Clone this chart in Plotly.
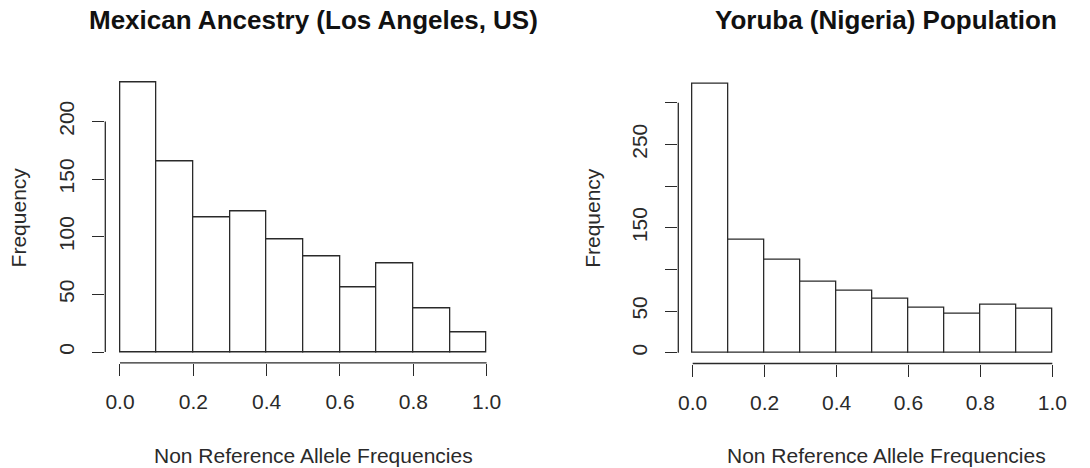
import plotly.graph_objects as go

bin_edges = [0.0, 0.1, 0.2, 0.3, 0.4, 0.5, 0.6, 0.7, 0.8, 0.9, 1.0]
mexican_counts = [234, 165, 117, 122, 98, 83, 56, 77, 38, 17]
yoruba_counts = [323, 136, 112, 85, 74, 65, 54, 47, 58, 53]

x_ticks = [0.0, 0.2, 0.4, 0.6, 0.8, 1.0]
x_ticktext = ["0.0", "0.2", "0.4", "0.6", "0.8", "1.0"]
mex_yticks = [0, 50, 100, 150, 200]
mex_ytext = ["0", "50", "100", "150", "200"]
yor_yticks = [0, 50, 100, 150, 200, 250, 300]
yor_ytext = ["0", "50", "", "150", "", "250", ""]

titles = ["Mexican Ancestry (Los Angeles, US)", "Yoruba (Nigeria) Population"]
xlabel = "Non Reference Allele Frequencies"
ylabel = "Frequency"

W, H = 1090, 468
FONT = "Liberation Sans, Arial, Helvetica, sans-serif"
INK = "#2a2a2a"

centers = [(bin_edges[i] + bin_edges[i + 1]) / 2 for i in range(len(bin_edges) - 1)]
widths = [bin_edges[i + 1] - bin_edges[i] for i in range(len(bin_edges) - 1)]

fig = go.Figure()
fig.add_trace(go.Bar(x=centers, y=mexican_counts, width=widths, xaxis="x", yaxis="y",
                     marker=dict(color="white", line=dict(color=INK, width=1.3)),
                     showlegend=False, hoverinfo="x+y"))
fig.add_trace(go.Bar(x=centers, y=yoruba_counts, width=widths, xaxis="x2", yaxis="y2",
                     marker=dict(color="white", line=dict(color=INK, width=1.3)),
                     showlegend=False, hoverinfo="x+y"))

def ext(lo, hi):
    d = (hi - lo) * 0.04
    return [lo - d, hi + d]

# plot regions in pixels
L1 = (105.3, 501.3, 71.4, 362.8)   # left, right, top, bottom
L2 = (678.3, 1066.7, 72.8, 363.5)

def dom_x(r):
    return [r[0] / W, r[1] / W]

def dom_y(r):
    return [(H - r[3]) / H, (H - r[2]) / H]

axis_common = dict(showgrid=False, zeroline=False, showline=False, ticks="outside",
                   ticklen=12, tickwidth=1.3, tickcolor=INK,
                   tickfont=dict(family=FONT, size=21, color=INK), fixedrange=True)

fig.update_layout(
    width=W, height=H,
    margin=dict(l=0, r=0, t=0, b=0),
    paper_bgcolor="white", plot_bgcolor="white",
    bargap=0,
    xaxis=dict(domain=dom_x(L1), range=ext(0, 1), anchor="y",
               tickvals=x_ticks, ticktext=x_ticktext, ticklabelstandoff=8, **axis_common),
    yaxis=dict(domain=dom_y(L1), range=ext(0, max(mexican_counts)), anchor="x",
               tickvals=mex_yticks, ticktext=mex_ytext, tickangle=-90, ticklabelstandoff=10,
               **axis_common),
    xaxis2=dict(domain=dom_x(L2), range=ext(0, 1), anchor="y2",
                tickvals=x_ticks, ticktext=x_ticktext, ticklabelstandoff=8, **axis_common),
    yaxis2=dict(domain=dom_y(L2), range=ext(0, max(yoruba_counts)), anchor="x2",
                tickvals=yor_yticks, ticktext=yor_ytext, tickangle=-90, ticklabelstandoff=10,
                **axis_common),
)

shapes = []
for xa, ya, yt in [("x", "y", mex_yticks), ("x2", "y2", yor_yticks)]:
    shapes.append(dict(type="line", xref=xa, yref=ya + " domain", x0=x_ticks[0], x1=x_ticks[-1],
                       y0=0, y1=0, line=dict(color=INK, width=1.3)))
    shapes.append(dict(type="line", xref=xa + " domain", yref=ya, x0=0, x1=0,
                       y0=yt[0], y1=yt[-1], line=dict(color=INK, width=1.3)))
fig.update_layout(shapes=shapes)

ann = []
title_cx = [313.9, 885.8]
ylab_cx = [18.3, 591.7]
for i in range(2):
    ann.append(dict(text="<b>" + titles[i] + "</b>", x=title_cx[i] / W, y=1 - 20 / H,
                    xref="paper", yref="paper", showarrow=False, xanchor="center", yanchor="middle",
                    font=dict(family=FONT, size=26, color="#111")))
    ann.append(dict(text=xlabel, x=[313.3, 886.7][i] / W, y=1 - 455 / H,
                    xref="paper", yref="paper", showarrow=False, xanchor="center", yanchor="middle",
                    font=dict(family=FONT, size=21, color=INK)))
    r = [L1, L2][i]
    ann.append(dict(text=ylabel, x=ylab_cx[i] / W, y=1 - ((r[2] + r[3]) / 2 + 0) / H,
                    xref="paper", yref="paper", showarrow=False, xanchor="center", yanchor="middle",
                    textangle=-90, font=dict(family=FONT, size=21, color=INK)))
fig.update_layout(annotations=ann)

fig.write_html("out.html", config={"displayModeBar": False},
               post_script="document.body.style.margin='0';document.body.style.padding='0';")
